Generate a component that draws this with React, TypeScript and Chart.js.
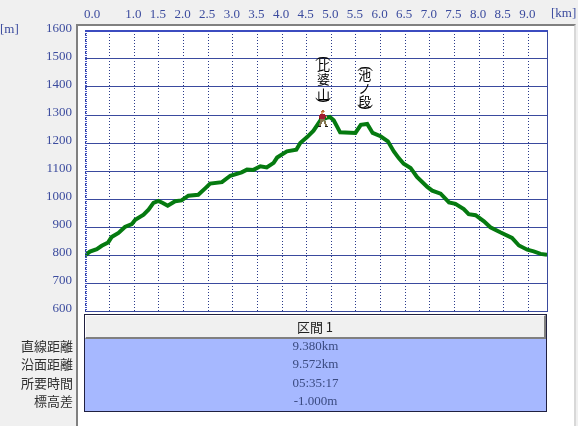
import React, { useEffect, useRef } from "react";
import { Chart, registerables } from "chart.js";

Chart.register(...registerables);

const distanceKm = [0.0,0.1,0.24,0.34,0.47,0.54,0.68,0.81,0.95,1.02,1.19,1.29,1.39,1.49,1.58,1.68,1.83,1.96,2.1,2.3,2.44,2.54,2.78,2.95,3.18,3.29,3.42,3.56,3.69,3.83,3.9,4.1,4.29,4.37,4.51,4.64,4.78,4.9,4.97,5.05,5.18,5.49,5.6,5.73,5.84,6.0,6.15,6.27,6.37,6.47,6.61,6.74,6.95,7.05,7.22,7.39,7.52,7.69,7.79,7.93,8.1,8.23,8.43,8.67,8.81,8.98,9.11,9.25,9.38];
const elevationM = [798,812,821,833,845,864,879,900,910,926,944,962,986,993,986,976,992,995,1012,1015,1038,1055,1060,1083,1095,1105,1104,1117,1113,1129,1148,1170,1176,1200,1221,1244,1281,1290,1293,1281,1238,1236,1265,1268,1236,1224,1206,1170,1146,1126,1111,1079,1043,1030,1019,988,983,964,946,942,920,899,881,861,834,819,813,804,801];

const xTickValues = [0,0.5,1,1.5,2,2.5,3,3.5,4,4.5,5,5.5,6,6.5,7,7.5,8,8.5,9];
const hiddenXLabels = [0.5];
const xMax = 9.38;
const yMin = 600;
const yMax = 1600;
const yStep = 100;

const peakNames = ["比婆山", "池ノ段"];
const peakKm = [4.84, 5.68];
const peakElevation = [1293, 1268];
const hikerPosition = [{ x: 4.84, y: 1287 }];

const rowLabels = ["直線距離", "沿面距離", "所要時間", "標高差"];
const rowValues = ["9.380km", "9.572km", "05:35:17", "-1.000m"];
const sectionTitle = "区間 1";

const BLUE = "#3a4a9e";
const DOT_BLUE = "#2a3a8a";
const TEXT_BLUE = "#3b4b9e";
const LATIN = '"Liberation Serif", "Noto Sans CJK JP", serif';
const CJK = '"Noto Sans CJK JP", sans-serif';

function makeHiker(): HTMLCanvasElement {
  const rows = [
    "....oo....",
    "...ooos...",
    "...sss....",
    "...ss.....",
    "..rrrrr...",
    ".rrrrrrr..",
    ".rrrrrrrs.",
    ".rrrrrr.s.",
    ".drrrrr...",
    "..ttttt...",
    "..ttttt...",
    "..ttt.tt..",
    "..tt..tt..",
    ".ttt..tt..",
    ".tt....tt.",
    ".tt....tt.",
    "kkk....kkk",
  ];
  const colors: Record<string, string> = { o: "#b86e38", s: "#dca070", r: "#a01c30", d: "#501018", t: "#84744f", k: "#1c1c1c" };
  const c = document.createElement("canvas");
  c.width = 10;
  c.height = rows.length;
  const g = c.getContext("2d")!;
  rows.forEach((row, j) => {
    [...row].forEach((ch, i) => {
      if (colors[ch]) {
        g.fillStyle = colors[ch];
        g.fillRect(i, j, 1, 1);
      }
    });
  });
  return c;
}

const framePlugin = {
  id: "frame",
  beforeDraw(chart: any) {
    const { ctx, chartArea: a } = chart;
    ctx.save();
    ctx.fillStyle = "#ffffff";
    ctx.fillRect(a.left, a.top, a.right - a.left, a.bottom - a.top);
    ctx.restore();
    ctx.imageSmoothingEnabled = false;
  },
  afterDatasetsDraw(chart: any) {
    const { ctx, chartArea: a, scales } = chart;
    ctx.save();
    ctx.strokeStyle = "#3c4cc0";
    ctx.lineWidth = 2;
    ctx.beginPath();
    ctx.moveTo(a.left, a.top);
    ctx.lineTo(a.right + 1, a.top);
    ctx.stroke();
    ctx.lineWidth = 1;
    ctx.strokeStyle = BLUE;
    ctx.beginPath();
    ctx.moveTo(a.right + 0.5, a.top);
    ctx.lineTo(a.right + 0.5, a.bottom + 1);
    ctx.stroke();
    ctx.strokeStyle = "#3c4cc0";
    ctx.lineWidth = 2;
    ctx.setLineDash([1, 1]);
    ctx.beginPath();
    ctx.moveTo(a.left + 1, a.top);
    ctx.lineTo(a.left + 1, a.bottom);
    ctx.stroke();
    ctx.setLineDash([]);

    ctx.fillStyle = "#000000";
    ctx.textBaseline = "middle";
    peakNames.forEach((name, i) => {
      const x = scales.x.getPixelForValue(peakKm[i]);
      const bottom = scales.y.getPixelForValue(peakElevation[i]) - 15.5;
      const step = i === 0 ? 14.5 : 13;
      const chars = [...name];
      ctx.font = `13px ${CJK}`;
      ctx.textAlign = "center";
      chars.forEach((ch, k) => {
        ctx.fillText(ch, x, bottom - 7.5 - (chars.length - 1 - k) * step);
      });
      const topY = bottom - 7.5 - (chars.length - 1) * step - 7.5;
      ctx.font = `16px ${LATIN}`;
      [["(", topY + 1.5], [")", bottom - 1.5]].forEach(([p, y]) => {
        ctx.save();
        ctx.translate(x, y as number);
        ctx.rotate(Math.PI / 2);
        ctx.fillText(p as string, 0, 0);
        ctx.restore();
      });
    });

    ctx.fillStyle = TEXT_BLUE;
    ctx.font = `13px ${LATIN}`;
    ctx.textAlign = "left";
    ctx.fillText("[m]", 0, 30);
    ctx.fillText("[km]", 551, 14);
    ctx.restore();
  },
};

export default function App() {
  const ref = useRef<HTMLCanvasElement>(null);

  useEffect(() => {
    const points = distanceKm.map((x, i) => ({ x, y: elevationM[i] }));
    const chart = new Chart(ref.current!, {
      type: "line",
      data: {
        datasets: [
          {
            label: "Hiker",
            data: hikerPosition,
            showLine: false,
            pointStyle: makeHiker() as any,
            pointRadius: 8,
            order: 0,
          },
          {
            label: "標高",
            data: points,
            borderColor: "#057a10",
            borderWidth: 4,
            pointRadius: 0,
            tension: 0,
            borderJoinStyle: "miter",
            order: 1,
          },
        ],
      },
      options: {
        animation: false,
        responsive: false,
        devicePixelRatio: 1,
        layout: { padding: { left: 0, top: 0, right: 31, bottom: 115 } },
        plugins: { legend: { display: false }, tooltip: { enabled: false } },
        scales: {
          x: {
            type: "linear",
            position: "top",
            min: 0,
            max: xMax,
            afterFit: (s: any) => { s.height = 31; },
            afterBuildTicks: (s: any) => {
              s.ticks = [...xTickValues, xMax].map((value) => ({ value }));
            },
            border: { display: false, dash: [1, 2] },
            grid: { color: DOT_BLUE, lineWidth: 1, drawTicks: false, tickLength: 0 },
            ticks: {
              autoSkip: false,
              maxRotation: 0,
              align: "inner",
              padding: 9,
              labelOffset: -1,
              color: TEXT_BLUE,
              font: { family: LATIN, size: 13 },
              callback: (v: any) => {
                const n = Number(v);
                return hiddenXLabels.includes(n) || n === xMax ? "" : n.toFixed(1);
              },
            },
          },
          y: {
            type: "linear",
            min: yMin,
            max: yMax,
            afterFit: (s: any) => { s.width = 85; },
            border: { display: false },
            grid: { color: BLUE, lineWidth: 1, drawTicks: false, tickLength: 0 },
            ticks: {
              stepSize: yStep,
              padding: 13,
              labelOffset: -2,
              color: TEXT_BLUE,
              font: { family: LATIN, size: 13 },
              callback: (v: any) => String(v),
            },
          },
        },
      },
      plugins: [framePlugin],
    } as any);
    return () => chart.destroy();
  }, []);

  const abs = (left: number, top: number, width: number, height: number, extra: React.CSSProperties = {}): React.CSSProperties => ({
    position: "absolute", left, top, width, height, boxSizing: "border-box", ...extra,
  });

  return (
    <div style={abs(0, 0, 578, 426, { background: "#f0f0f0", overflow: "hidden" })}>
      <div style={abs(76, 24, 500, 402, { background: "#ffffff", borderTop: "2px solid #808080", borderLeft: "2px solid #808080", borderRight: "2px solid #d8d8d8" })} />
      <canvas ref={ref} width={578} height={426} style={{ position: "absolute", left: 0, top: 0, width: 578, height: 426 }} />
      <div style={abs(84, 314, 463, 98, { border: "1px solid #202040", background: "#a6b8ff" })} />
      <div style={abs(85, 315, 461, 24, {
        background: "#f0f0f0", borderTop: "1px solid #ffffff", borderLeft: "1px solid #ffffff",
        borderRight: "2px solid #808080", borderBottom: "2px solid #808080",
        textAlign: "center", font: `13px/21px ${CJK}`, color: "#202020",
      })}>{sectionTitle}</div>
      {rowValues.map((v, i) => (
        <div key={v} style={abs(85, 337 + i * 18.4, 461, 18, { textAlign: "center", font: `13px/18px ${LATIN}`, color: "#3a4a80" })}>{v}</div>
      ))}
      {rowLabels.map((v, i) => (
        <div key={v} style={abs(0, 337 + i * 18.4, 73, 18, { textAlign: "right", font: `13px/18px ${CJK}`, color: "#303030" })}>{v}</div>
      ))}
    </div>
  );
}
